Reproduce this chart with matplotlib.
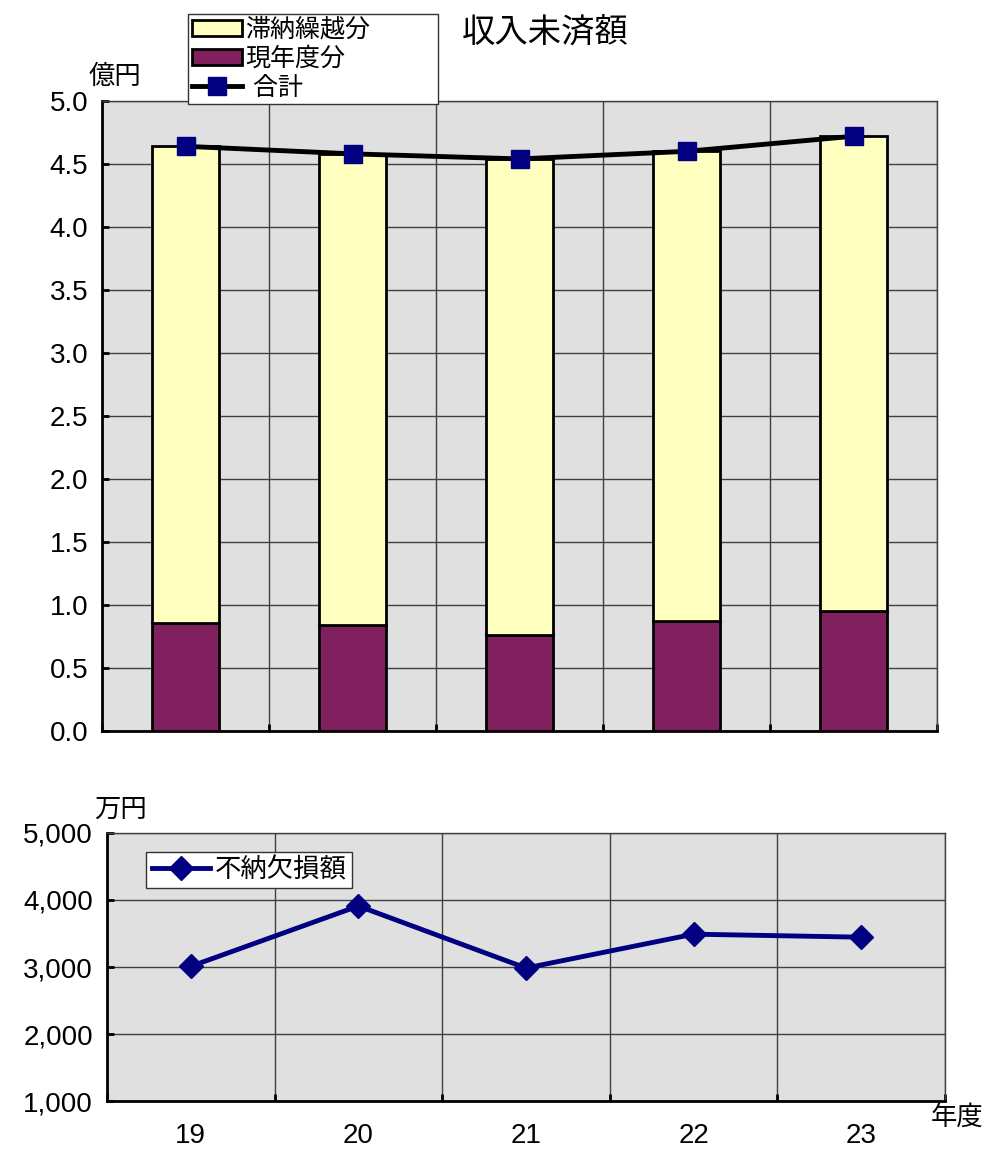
import numpy as np
import matplotlib.pyplot as plt
from matplotlib.ticker import FuncFormatter

plt.rcParams['font.family'] = ['Liberation Sans', 'Noto Sans CJK JP']

# 年度別データ
years = ['19', '20', '21', '22', '23']
current_year = [0.86, 0.84, 0.76, 0.87, 0.95]   # 現年度分 (億円)
total = [4.64, 4.58, 4.54, 4.60, 4.72]          # 合計 (億円)
arrears = [t - c for t, c in zip(total, current_year)]  # 滞納繰越分
write_off = [3010, 3910, 2985, 3490, 3445]      # 不納欠損額 (万円)

bg = '#e0e0e0'
grid_c = '#404040'
x = np.arange(len(years))

fig = plt.figure(figsize=(9.85, 11.51), dpi=100)

# 収入未済額
ax1 = fig.add_axes([0.1036, 0.3649, 0.8477, 0.5474])
ax1.set_facecolor(bg)
b_cur = ax1.bar(x, current_year, width=0.4, color='#80205e', edgecolor='black',
                linewidth=2, zorder=3)
b_arr = ax1.bar(x, arrears, width=0.4, bottom=current_year, color='#ffffc0',
                edgecolor='black', linewidth=2, zorder=3)
ln_tot, = ax1.plot(x, total, color='black', lw=3.5, marker='s', markersize=13,
                   markerfacecolor='#000080', markeredgecolor='#000080', zorder=4)
ax1.set_xlim(-0.5, 4.5)
ax1.set_ylim(0, 5.0)
ax1.set_yticks(np.arange(0, 5.01, 0.5))
ax1.yaxis.set_major_formatter(FuncFormatter(lambda v, p: f'{v:.1f}'))
ax1.set_xticks(np.arange(-0.5, 4.6, 1.0))
ax1.set_xticklabels([])
ax1.grid(True, color=grid_c, lw=1, zorder=0)
ax1.set_axisbelow(True)
ax1.tick_params(axis='both', direction='in', length=5, width=2, labelsize=20)
ax1.tick_params(axis='y', pad=10)
for s in ['top', 'right']:
    ax1.spines[s].set_color(grid_c)
    ax1.spines[s].set_linewidth(1)
for s in ['left', 'bottom']:
    ax1.spines[s].set_linewidth(2)

leg1 = fig.legend([b_arr, b_cur, ln_tot], ['滞納繰越分', '現年度分', ' 合計'],
                  loc='upper left', mode='expand',
                  bbox_to_anchor=(188 / 985, 1 - 100 / 1151, 250 / 985, 86 / 1151),
                  fontsize=18, frameon=True, fancybox=False, edgecolor='#333333',
                  framealpha=1, borderpad=0.15, labelspacing=0.2, handlelength=2.0,
                  handletextpad=0.15, handleheight=0.6, borderaxespad=0)
leg1.get_frame().set_linewidth(1)

fig.text(545 / 985, 1 - 33 / 1151, '収入未済額', fontsize=24, ha='center', va='center')
fig.text(115 / 985, 1 - 77 / 1151, '億円', fontsize=19, ha='center', va='center')

# 不納欠損額
ax2 = fig.add_axes([0.1086, 0.0434, 0.8508, 0.2329])
ax2.set_facecolor(bg)
ax2.plot(x, write_off, color='#000080', lw=3.5, marker='D', markersize=12,
         label='不納欠損額', zorder=4)
ax2.set_xlim(-0.5, 4.5)
ax2.set_ylim(1000, 5000)
ax2.set_yticks(np.arange(1000, 5001, 1000))
ax2.yaxis.set_major_formatter(FuncFormatter(lambda v, p: f'{int(v):,}'))
ax2.set_xticks(np.arange(-0.5, 4.6, 1.0))
ax2.set_xticklabels([])
ax2.set_xticks(x, minor=True)
ax2.set_xticklabels(years, minor=True)
ax2.tick_params(axis='x', which='minor', length=0, labelsize=20, pad=16)
ax2.grid(True, which='major', color=grid_c, lw=1, zorder=0)
ax2.set_axisbelow(True)
ax2.tick_params(axis='both', which='major', direction='in', length=5, width=2, labelsize=20)
ax2.tick_params(axis='y', pad=10)
for s in ['top', 'right']:
    ax2.spines[s].set_color(grid_c)
    ax2.spines[s].set_linewidth(1)
for s in ['left', 'bottom']:
    ax2.spines[s].set_linewidth(2)

leg2 = ax2.legend(loc='upper left', bbox_to_anchor=(0.047, 0.93), fontsize=19,
                  frameon=True, fancybox=False, edgecolor='#333333', framealpha=1,
                  borderpad=0.2, handlelength=2.2, handletextpad=0.2, borderaxespad=0)
leg2.get_frame().set_linewidth(1)

fig.text(120 / 985, 1 - 810 / 1151, '万円', fontsize=19, ha='center', va='center')
fig.text(957 / 985, 1 - 1117 / 1151, '年度', fontsize=19, ha='center', va='center')

fig.savefig('out.png', dpi=100)
